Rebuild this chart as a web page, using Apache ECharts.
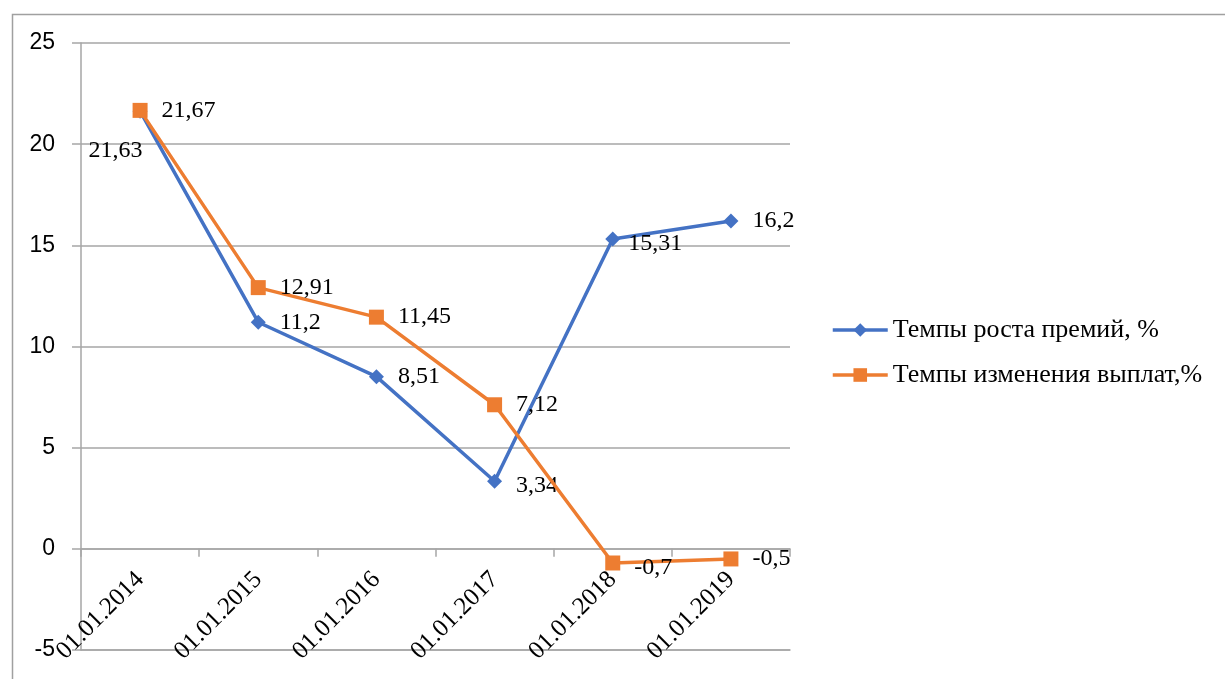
<!DOCTYPE html>
<html><head><meta charset="utf-8">
<script src="https://cdn.jsdelivr.net/npm/echarts@6/dist/echarts.min.js"></script>
<style>html,body{margin:0;padding:0;background:#fff}#c{width:1225px;height:679px}</style>
</head><body><div id="c"></div>
<script>
const categories = ['01.01.2014','01.01.2015','01.01.2016','01.01.2017','01.01.2018','01.01.2019'];
const premiumGrowth = [21.63, 11.2, 8.51, 3.34, 15.31, 16.2];
const payoutChange = [21.67, 12.91, 11.45, 7.12, -0.7, -0.5];
const seriesNames = ['Темпы роста премий, %', 'Темпы изменения выплат,%'];
const yTicks = [-5, 0, 5, 10, 15, 20, 25];

const serif = '"Liberation Serif", "Times New Roman", serif';
const sans = '"Liberation Sans", Arial, sans-serif';
const fmt = p => String(p.value).replace('.', ',');

const gridTop = 43, gridBottom = 29, H = 679;
const yMin = yTicks[0], yMax = yTicks[yTicks.length - 1];
const zeroOffset = (H - gridTop - gridBottom) * (0 - yMin) / (yMax - yMin);

const chart = echarts.init(document.getElementById('c'));
const labelBase = {show: true, position: 'right', distance: 14, color: '#000', fontFamily: serif, fontSize: 24, formatter: fmt};

chart.setOption({
  animation: false,
  graphic: [{type: 'rect', shape: {x: 12.5, y: 14.5, width: 1300, height: 700}, style: {fill: 'none', stroke: '#a0a0a0', lineWidth: 1.5}}],
  grid: {left: 81, right: 435, top: gridTop, bottom: gridBottom, containLabel: false, outerBoundsMode: 'none'},
  legend: {
    orient: 'vertical', left: 826, top: 312, itemWidth: 55, itemHeight: 17, itemGap: 19,
    lineStyle: {width: 3.5},
    textStyle: {fontFamily: serif, fontSize: 26, color: '#000'},
    data: seriesNames
  },
  xAxis: [{
    type: 'category', data: categories, boundaryGap: true,
    offset: -zeroOffset,
    axisLine: {onZero: false, lineStyle: {color: '#a6a6a6', width: 1.5}},
    axisTick: {show: true, length: 8, interval: 0, lineStyle: {color: '#a6a6a6', width: 1.5}},
    axisLabel: {rotate: 45, interval: 0, margin: 27, color: '#000', fontFamily: serif, fontSize: 25}
  }, {
    type: 'category', data: categories, boundaryGap: true, position: 'bottom',
    axisLine: {show: true, onZero: false, lineStyle: {color: '#a6a6a6', width: 1.5}},
    axisTick: {show: false}, axisLabel: {show: false}
  }],
  yAxis: {
    type: 'value', min: yMin, max: yMax, interval: 5,
    axisLine: {show: true, lineStyle: {color: '#a6a6a6', width: 1.5}},
    axisTick: {show: true, length: 9, lineStyle: {color: '#a6a6a6', width: 1.5}},
    splitLine: {lineStyle: {color: '#a6a6a6', width: 1.5}},
    axisLabel: {margin: 26, color: '#000', fontFamily: sans, fontSize: 23}
  },
  series: [
    {
      name: seriesNames[0], type: 'line', data: premiumGrowth,
      symbol: 'diamond', symbolSize: 15,
      lineStyle: {color: '#4472C4', width: 3.5}, itemStyle: {color: '#4472C4'},
      label: labelBase,
      labelLayout: function (p) {
        if (p.dataIndex === 0) return {x: p.labelRect.x - 73, y: p.labelRect.y + 40};
        if (p.dataIndex === 3) return {y: p.labelRect.y + 4};
        if (p.dataIndex === 4) return {x: p.labelRect.x - 6, y: p.labelRect.y + 5};
        return {};
      },
      z: 3
    },
    {
      name: seriesNames[1], type: 'line', data: payoutChange,
      symbol: 'rect', symbolSize: 15,
      lineStyle: {color: '#ED7D31', width: 3.5}, itemStyle: {color: '#ED7D31'},
      label: labelBase,
      labelLayout: function (p) {
        if (p.dataIndex === 4) return {y: p.labelRect.y + 5};
        return {};
      },
      z: 4
    }
  ]
});
</script></body></html>
